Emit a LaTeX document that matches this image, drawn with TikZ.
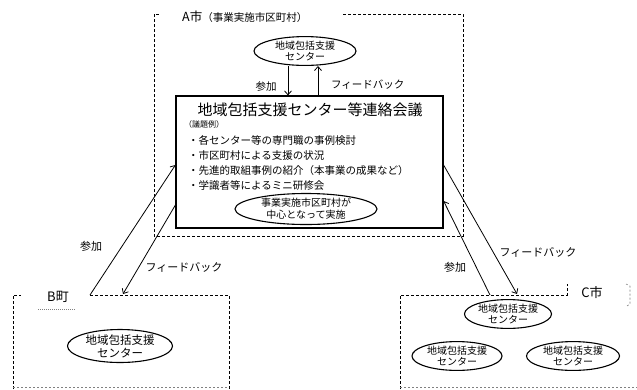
\documentclass[tikz,border=0pt]{standalone}
\usepackage{fontspec}
\setmainfont{Noto Sans CJK JP}
\usetikzlibrary{shapes.geometric,arrows.meta}
\tikzset{
  dashbox/.style={line width=0.9pt, dash pattern=on 3pt off 2pt},
  faintdash/.style={line width=0.6pt, gray, dash pattern=on 2pt off 2pt},
  center/.style={ellipse, draw, line width=1.1pt, inner sep=0pt, align=center,
     font=\fontsize{10}{11.5}\selectfont},
  arr/.style={line width=0.8pt, -{Straight Barb[length=4pt,width=7pt]}},
  lbl/.style={font=\fontsize{10.5}{12}\selectfont, inner sep=0pt},
  item/.style={font=\fontsize{10.5}{12}\selectfont, inner sep=0pt, anchor=west},
}
\begin{document}
\begin{tikzpicture}[x=1pt,y=-1pt]
\useasboundingbox (0,0) rectangle (637,389);

% ---------- A city frame ----------
\draw[dashbox] (343,14) -- (463,14) -- (463,236) -- (154,236) -- (154,14) -- (159,14);
\node[anchor=west, inner sep=0pt] (labA) at (182,17)
  {{\fontsize{12.5}{13}\selectfont A市}{\fontsize{10.5}{11}\selectfont （事業実施市区町村）}};

\node[center, minimum width=102pt, minimum height=25pt] (cA) at (305,51)
  {地域包括支援\\センター};

% main conference box
\node[draw, line width=1.2pt, minimum width=267pt, minimum height=132pt, inner sep=0pt] (conf) at (309.5,162) {};
\node[inner sep=0pt, font=\fontsize{15}{16}\selectfont] (title) at (310,110) {地域包括支援センター等連絡会議};
\node[inner sep=0pt, anchor=west, font=\fontsize{8}{9}\selectfont] (agenda) at (184,124) {（議題例）};
\node[item] (i1) at (188,140) {・各センター等の専門職の事例検討};
\node[item] (i2) at (188,155.5) {・市区町村による支援の状況};
\node[item] (i3) at (188,170.5) {・先進的取組事例の紹介（本事業の成果など）};
\node[item] (i4) at (188,185.5) {・学識者等によるミニ研修会};
\node[center, minimum width=142pt, minimum height=31pt, font=\fontsize{10}{12}\selectfont] (cImpl) at (306,209)
  {事業実施市区町村が\\中心となって実施};

% arrows between top center and conference
\draw[arr] ([xshift=-17pt]cA.south) -- ([xshift=-17pt]cA.south |- conf.north);
\draw[arr] ([xshift=13pt]cA.south |- conf.north) -- ([xshift=13pt]cA.south);
\node[lbl] (lA1) at (266,87) {参加};
\node[lbl, anchor=west] (lA2) at (331,85) {フィードバック};

% ---------- B town ----------
\draw[dashbox] (13,389) -- (13,295) -- (21,295);
\draw[dashbox] (90,295) -- (229,295) -- (229,389);
\draw[faintdash] (13,387.5) -- (229,387.5);
\node[inner sep=0pt, font=\fontsize{13}{14}\selectfont] (labB) at (58,297) {B町};
\draw[faintdash, line width=0.4pt, dash pattern=on 1pt off 1pt] (38,309) -- (75,309);
\node[center, minimum width=105pt, minimum height=33pt, font=\fontsize{11.5}{13}\selectfont] (cB) at (120,346)
  {地域包括支援\\センター};
\coordinate (bP) at (90,295);
\coordinate (bF) at (123,294);
\draw[arr] (bP) -- (conf.west |- 0,165);
\draw[arr] (conf.west |- 0,205) -- (bF);
\node[lbl, font=\fontsize{11}{12}\selectfont] (lB1) at (91,246) {参加};
\node[lbl, font=\fontsize{11}{12}\selectfont] (lB2) at (184,267) {フィードバック};

% ---------- C city ----------
\draw[dashbox] (400,389) -- (400,295) -- (567,295) -- (567,284);
\draw[faintdash] (400,387.5) -- (637,387.5);
\draw[faintdash] (626,284) -- (630,286) -- (630,304) -- (627,306);
\node[inner sep=0pt, font=\fontsize{13}{14}\selectfont] (labC) at (592,293) {C市};
\node[center, minimum width=87pt, minimum height=25pt] (cC1) at (508,314) {地域包括支援\\センター};
\node[center, minimum width=90pt, minimum height=25pt] (cC2) at (457,356) {地域包括支援\\センター};
\node[center, minimum width=93pt, minimum height=25pt] (cC3) at (573,356) {地域包括支援\\センター};
\coordinate (cP) at (490,295);
\coordinate (cF) at (517,294);
\draw[arr] (cP) -- (conf.east |- 0,201);
\draw[arr] (conf.east |- 0,165) -- (cF);
\node[lbl, font=\fontsize{11}{12}\selectfont] (lC1) at (455,267) {参加};
\node[lbl, font=\fontsize{11}{12}\selectfont] (lC2) at (538,252) {フィードバック};
\end{tikzpicture}
\end{document}
